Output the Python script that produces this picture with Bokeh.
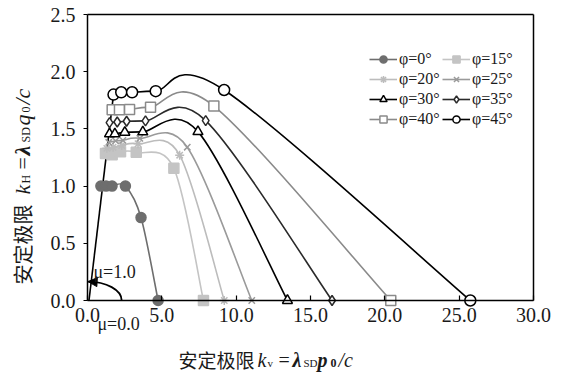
import math
from bokeh.plotting import figure
from bokeh.models import (Range1d, Legend, LegendItem, Label, Arrow, NormalHead,
                          FixedTicker, NumeralTickFormatter, LinearAxis)
from bokeh.embed import file_html
from bokeh.resources import INLINE

# Limit-state points (kv, kH) for each friction angle phi, mu running 1.0 -> 0.0
kv_phi0 = [0.90, 1.25, 1.65, 2.55, 3.60, 4.75]
kh_phi0 = [1.00, 1.00, 1.00, 1.00, 0.725, 0.0]
kv_phi15 = [1.21, 1.66, 2.22, 3.28, 5.81, 7.80]
kh_phi15 = [1.285, 1.275, 1.30, 1.295, 1.155, 0.0]
kv_phi20 = [1.30, 1.72, 2.30, 3.40, 6.20, 9.20]
kh_phi20 = [1.33, 1.34, 1.355, 1.37, 1.27, 0.0]
kv_phi25 = [1.43, 1.89, 2.38, 3.52, 6.71, 11.05]
kh_phi25 = [1.383, 1.395, 1.40, 1.418, 1.34, 0.0]
kv_phi30 = [1.48, 1.84, 2.51, 3.72, 7.43, 13.45]
kh_phi30 = [1.456, 1.456, 1.47, 1.474, 1.476, 0.0]
kv_phi35 = [1.48, 2.00, 2.63, 3.90, 7.95, 16.45]
kh_phi35 = [1.555, 1.56, 1.567, 1.57, 1.573, 0.0]
kv_phi40 = [1.66, 2.15, 2.83, 4.24, 8.50, 20.40]
kh_phi40 = [1.667, 1.667, 1.67, 1.69, 1.70, 0.0]
kv_phi45 = [1.75, 2.27, 3.00, 4.59, 9.19, 25.75]
kh_phi45 = [1.80, 1.82, 1.82, 1.83, 1.84, 0.0]

series_labels = ["φ=0°", "φ=15°", "φ=20°", "φ=25°", "φ=30°", "φ=35°", "φ=40°", "φ=45°"]

# mu = 1.0 boundary line and the mu sweep arc near the origin
mu_line_kv = [0.10, 1.75]
mu_line_kh = [0.00, 1.80]
arc_rx = 2.3
arc_ry = 0.165

x_ticks = [0, 5, 10, 15, 20, 25, 30]
y_ticks = [0.0, 0.5, 1.0, 1.5, 2.0, 2.5]

SERIF = "Liberation Serif"
CJK = "Noto Sans CJK SC"
INK = "#1a1a1a"

series = [
    (kv_phi0, kh_phi0, "circle", "#6e6e6e", "#6e6e6e", 10),
    (kv_phi15, kh_phi15, "square", "#c4c4c4", "#c4c4c4", 10),
    (kv_phi20, kh_phi20, "asterisk", "#bcbcbc", "#bcbcbc", 9),
    (kv_phi25, kh_phi25, "x", "#9a9a9a", "#9a9a9a", 9),
    (kv_phi30, kh_phi30, "triangle", "#000000", "white", 10),
    (kv_phi35, kh_phi35, "diamond", "#2a2a2a", "white", 10),
    (kv_phi40, kh_phi40, "square", "#8a8a8a", "white", 10),
    (kv_phi45, kh_phi45, "circle", "#000000", "white", 11),
]


def smooth_segments(xs, ys):
    """Cubic Bezier pieces through the points (Catmull-Rom style handles)."""
    n = len(xs)
    d = {k: [] for k in ("x0", "y0", "x1", "y1", "cx0", "cy0", "cx1", "cy1")}
    for i in range(n - 1):
        a, b = max(i - 1, 0), min(i + 2, n - 1)
        d["x0"].append(xs[i]); d["y0"].append(ys[i])
        d["x1"].append(xs[i + 1]); d["y1"].append(ys[i + 1])
        d["cx0"].append(xs[i] + (xs[i + 1] - xs[a]) / 6.0)
        d["cy0"].append(ys[i] + (ys[i + 1] - ys[a]) / 6.0)
        d["cx1"].append(xs[i + 1] - (xs[b] - xs[i]) / 6.0)
        d["cy1"].append(ys[i + 1] - (ys[b] - ys[i]) / 6.0)
    return d


# The frame fills the whole canvas; the axes sit at fixed data locations so the
# titles and notes in the margins can be drawn as ordinary annotations.
W, H = 564, 373
FX0, FX1, FY0, FY1 = 87, 533, 300, 14          # pixel box of the 0..30 x 0..2.5 area
sx = (FX1 - FX0) / (x_ticks[-1] - x_ticks[0])
sy = (FY0 - FY1) / (y_ticks[-1] - y_ticks[0])
x_range = Range1d(-FX0 / sx, (W - FX0) / sx)
y_range = Range1d(-(H - FY0) / sy, FY0 / sy)

p = figure(width=W, height=H, output_backend="svg", toolbar_location=None,
           x_range=x_range, y_range=y_range, x_axis_location=None,
           y_axis_location=None, min_border=0)
p.background_fill_color = "white"
p.border_fill_color = "white"
p.outline_line_color = None
p.xgrid.visible = False
p.ygrid.visible = False


def make_axis(ticks, bounds, loc, labels=True):
    ax = LinearAxis(fixed_location=loc, bounds=bounds,
                    ticker=FixedTicker(ticks=ticks if labels else []),
                    formatter=NumeralTickFormatter(format="0.0"))
    ax.axis_line_color = "black"
    ax.axis_line_width = 1.5
    ax.major_tick_line_color = "black"
    ax.major_tick_line_width = 1.2
    ax.minor_tick_line_color = None
    ax.major_label_text_font = SERIF
    ax.major_label_text_font_size = "20px"
    ax.major_label_text_color = INK
    return ax


xb = (x_ticks[0], x_ticks[-1])
yb = (y_ticks[0], y_ticks[-1])
xax = make_axis(x_ticks, xb, y_ticks[0])
xax.major_tick_in = 5
xax.major_tick_out = 0
xax.major_label_standoff = 7
yax = make_axis(y_ticks, yb, x_ticks[0])
yax.major_tick_in = 0
yax.major_tick_out = 4
yax.major_label_standoff = 8
p.add_layout(xax, "below")
p.add_layout(yax, "left")
p.add_layout(make_axis([], xb, y_ticks[-1], labels=False), "above")
p.add_layout(make_axis([], yb, x_ticks[-1], labels=False), "right")

# mu = 1.0 boundary
p.line(mu_line_kv, mu_line_kh, line_color="black", line_width=1.6)

# sweep arc from mu = 0.0 (on the kv axis) up to mu = 1.0 (on the kH axis)
k = 0.5523
p.bezier(x0=[arc_rx], y0=[0.0], x1=[0.0], y1=[arc_ry],
         cx0=[arc_rx], cy0=[arc_ry * k], cx1=[arc_rx * k], cy1=[arc_ry],
         line_color="black", line_width=1.8)
p.add_layout(Arrow(end=NormalHead(size=9, fill_color="black", line_color="black"),
                   x_start=0.45, y_start=arc_ry - 0.003, x_end=0.04, y_end=arc_ry,
                   line_alpha=0))

items = []
for (xs, ys, marker, lc, fc, sz), lab in zip(series, series_labels):
    seg = smooth_segments(xs, ys)
    p.bezier(line_color=lc, line_width=1.6, **seg)
    key = p.line(xs[:1], ys[:1], line_color=lc, line_width=1.6)
    sc = p.scatter(xs, ys, marker=marker, size=sz, line_color=lc, fill_color=fc,
                   line_width=1.5)
    items.append(LegendItem(label=lab, renderers=[key, sc]))

# two legend columns, filled row by row
for col, left in ((0, 369), (1, 442)):
    legend = Legend(items=items[col::2], orientation="vertical",
                    location=(left, H - 128), glyph_width=28, glyph_height=18,
                    label_standoff=2, spacing=2, padding=0, margin=0,
                    label_text_font=SERIF, label_text_font_size="16px",
                    label_text_color=INK, label_height=18,
                    border_line_color=None, background_fill_alpha=0)
    p.add_layout(legend)

p.add_layout(Label(x=0.4, y=0.25, text="μ=1.0", text_font=SERIF,
                   text_font_size="18px", text_baseline="alphabetic", text_color=INK))
p.add_layout(Label(x=0.67, y=50, y_units="screen", text="μ=0.0", text_font=SERIF,
                   text_font_size="18px", text_baseline="alphabetic", text_color=INK))


def run(pieces, x, y, rotated=False):
    """Lay out a row of differently styled text pieces, one Label each."""
    for text, font, size, style, adv, shift in pieces:
        if rotated:
            lab = Label(x=x + shift, y=y, angle=math.pi / 2)
        else:
            lab = Label(x=x, y=y - shift)
        lab.update(x_units="screen", y_units="screen", text=text, text_font=font,
                   text_font_size=f"{size}px", text_font_style=style,
                   text_align="left", text_baseline="alphabetic",
                   text_color=INK)
        p.add_layout(lab)
        if rotated:
            y += adv
        else:
            x += adv


x_title = [
    ("安定极限", CJK, 19, "normal", 79, 0),
    ("k", SERIF, 20, "italic", 10, 0),
    ("v", SERIF, 11, "normal", 11, 3),
    ("=", SERIF, 20, "normal", 14, 0),
    ("λ", SERIF, 20, "bold italic", 11, 0),
    ("SD", SERIF, 11, "normal", 14, 3),
    ("p", SERIF, 20, "bold italic", 13, 0),
    ("0", SERIF, 12, "bold", 8, 3),
    ("/c", SERIF, 20, "italic", 16, 0),
]
y_title = [
    ("安定极限", CJK, 20, "normal", 90, 0),
    ("k", SERIF, 22, "italic", 11, 0),
    ("H", SERIF, 12, "normal", 14, 3),
    ("=", SERIF, 22, "normal", 14, 0),
    ("λ", SERIF, 22, "bold italic", 13, 0),
    ("SD", SERIF, 12, "normal", 17, 3),
    ("q", SERIF, 22, "italic", 13, 0),
    ("0", SERIF, 12, "normal", 8, 3),
    ("/c", SERIF, 22, "italic", 16, 0),
]
run(x_title, 178, 14)
run(y_title, 22, 89, rotated=True)

open("out.html", "w").write(file_html(p, INLINE))
